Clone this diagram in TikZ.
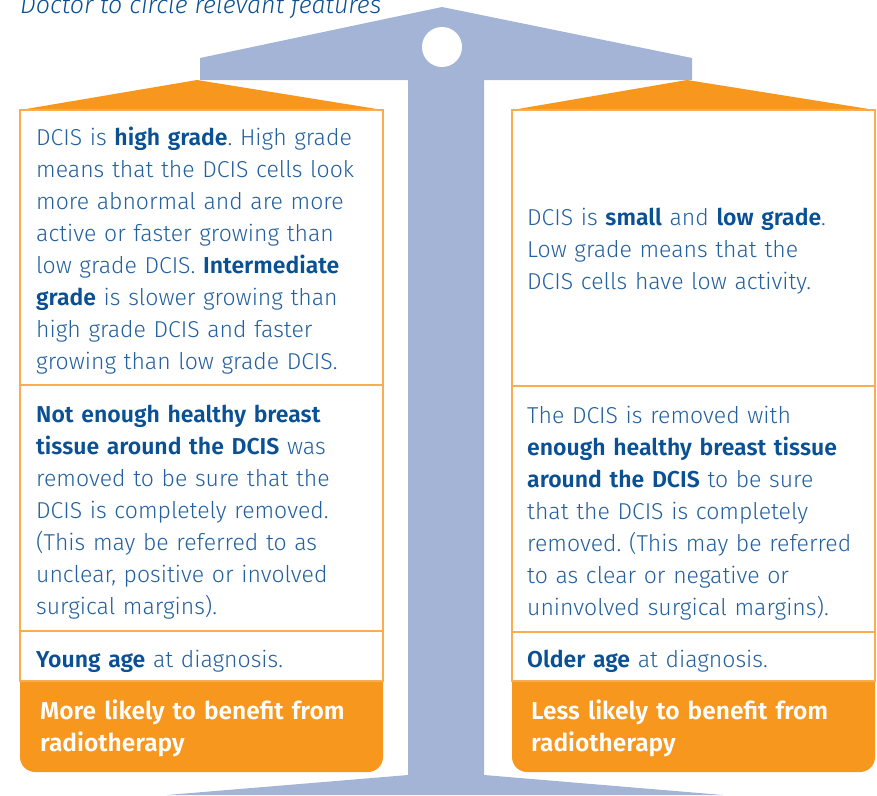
\documentclass[tikz,border=0pt]{standalone}
\usepackage{fontspec}
\setmainfont{Fira Sans Light}[BoldFont={Fira Sans SemiBold},ItalicFont={Fira Sans Light Italic}]
\definecolor{scaleBlue}{RGB}{164,180,214}
\definecolor{panOrange}{RGB}{247,151,30}
\definecolor{lineOrange}{RGB}{249,172,80}
\definecolor{textBlue}{RGB}{34,96,160}
\definecolor{headBlue}{RGB}{10,80,148}
\newcommand{\keyterm}[1]{{\color{headBlue}\bfseries #1}}
\frenchspacing

\begin{document}
\begin{tikzpicture}[x=1pt,y=-1pt,
    cell/.style={draw=lineOrange, line width=1.4pt, fill=white, rectangle,
      anchor=north west, inner sep=0pt, outer sep=0pt, minimum width=363pt},
    body/.style={anchor=base west, inner sep=0pt, text width=350pt, align=left,
      text=textBlue, font=\fontsize{23}{32}\selectfont},
    banner/.style={body, text=white, font=\fontsize{24.5}{32}\selectfont\bfseries}]
    \useasboundingbox (0,0) rectangle (877,795);

    % the balance: beam, stem and foot in one piece
    \fill[scaleBlue] (200,80) -- (200,58) -- (442,7) -- (692,58) -- (692,80)
      -- (484,80) -- (484,775) -- (723,795) -- (167,795) -- (408,775)
      -- (408,80) -- cycle;
    \fill[white] (442,47) circle (20);

    % pan tops
    \fill[panOrange] (20,110) -- (197,80) -- (383,110) -- cycle;
    \fill[panOrange] (512,110) -- (687,80) -- (875,110) -- cycle;

    % orange feet of the two columns, rounded at the bottom only
    \fill[panOrange, rounded corners=15pt] (20,660) rectangle (383,772);
    \fill[panOrange, rounded corners=15pt] (512,660) rectangle (875,772);

    % left column
    \node[cell, minimum height=275pt] (lgrade) at (20,110) {};
    \node[cell, minimum height=246pt] (lmargin) at (20,385) {};
    \node[cell, minimum height=50pt] (lage) at (20,631) {};

    % right column
    \node[cell, minimum height=276pt] (rgrade) at (512,110) {};
    \node[cell, minimum height=246pt] (rmargin) at (512,386) {};
    \node[cell, minimum height=49pt] (rage) at (512,632) {};

    \node[anchor=base west, inner sep=0pt, text=headBlue,
      font=\fontsize{25}{30}\selectfont\itshape] (title) at (20,13)
      {Doctor to circle relevant features};

    \node[body] (lgradetxt) at (36,145) {DCIS is \keyterm{high grade}. High grade\\
      means that the DCIS cells look\\ more abnormal and are more\\
      active or faster growing than\\ low grade DCIS. \keyterm{Intermediate}\\
      \keyterm{grade} is slower growing than\\ high grade DCIS and faster\\
      growing than low grade DCIS.};
    \node[body] (lmargintxt) at (36,422) {\keyterm{Not enough healthy breast}\\
      \keyterm{tissue around the DCIS} was\\ removed to be sure that the\\
      DCIS is completely removed.\\ (This may be referred to as\\
      unclear, positive or involved\\ surgical margins).};
    \node[body] (lagetxt) at (36,667) {\keyterm{Young age} at diagnosis.};
    \node[banner] (lmore) at (40,719) {More likely to benefit from\\ radiotherapy};

    \node[body] (rgradetxt) at (527,225) {DCIS is \keyterm{small} and \keyterm{low grade}.\\
      Low grade means that the\\ DCIS cells have low activity.};
    \node[body] (rmargintxt) at (527,423) {The DCIS is removed with\\
      \keyterm{enough healthy breast tissue}\\ \keyterm{around the DCIS} to be sure\\
      that the DCIS is completely\\ removed. (This may be referred\\
      to as clear or negative or\\ uninvolved surgical margins).};
    \node[body] (ragetxt) at (527,667) {\keyterm{Older age} at diagnosis.};
    \node[banner] (rless) at (531,719) {Less likely to benefit from\\ radiotherapy};
\end{tikzpicture}
\end{document}
